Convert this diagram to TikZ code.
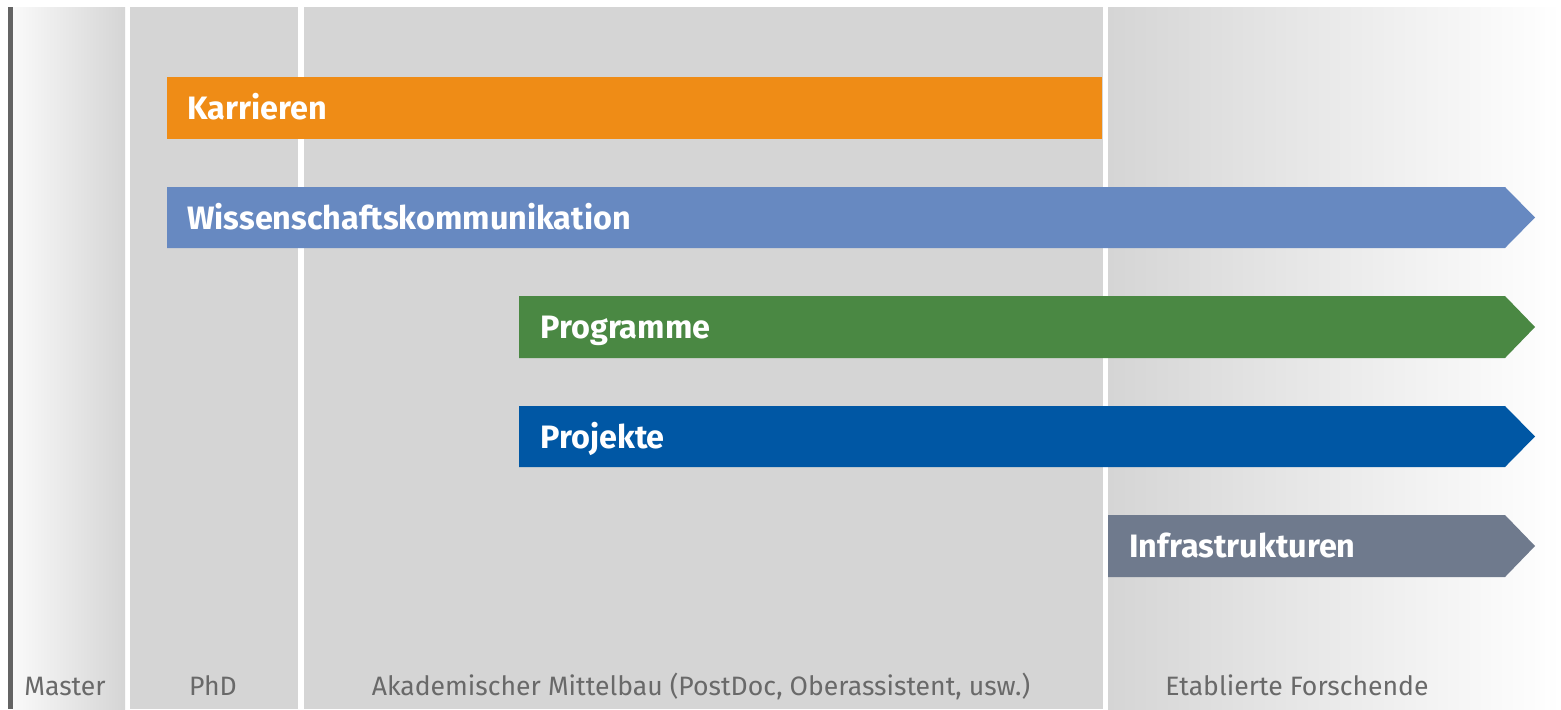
\documentclass[tikz,border=0pt]{standalone}
\usepackage{fontspec}
\setmainfont{Fira Sans}
\usetikzlibrary{positioning}

\definecolor{bandgray}{RGB}{213,213,213}
\definecolor{axisgray}{RGB}{100,100,100}
\definecolor{labelgray}{RGB}{105,105,105}
\definecolor{korange}{RGB}{239,140,22}
\definecolor{kblue}{RGB}{103,137,193}
\definecolor{kgreen}{RGB}{74,136,67}
\definecolor{kdarkblue}{RGB}{0,87,164}
\definecolor{kslate}{RGB}{111,122,141}

\begin{document}
\begin{tikzpicture}[x=0.5pt,y=-0.5pt]
  \tikzset{balken/.style={fill=#1},
           balkentext/.style={anchor=base west,inner sep=0pt,text=white,font=\fontsize{16.2}{20}\selectfont\bfseries},
           stufe/.style={anchor=base,inner sep=0pt,text=labelgray,font=\fontsize{13.3}{16}\selectfont}}

  \useasboundingbox (0,0) rectangle (1561,709);
  \fill[white] (0,0) rectangle (1561,709);

  \shade[left color=gray!4,right color=bandgray] (12,7) rectangle (125,709);
  \fill[bandgray] (130,7) rectangle (298,709);
  \fill[bandgray] (304,7) rectangle (1103,709);
  \shade[left color=bandgray,right color=white] (1108,7) rectangle (1561,709);
  \fill[axisgray] (8,7) rectangle (13,709);

  \fill[balken=korange] (167,77) rectangle (1102,139);
  \fill[balken=kblue] (167,187) -- (1505,187) -- (1535,217.5) -- (1505,248) -- (167,248) -- cycle;
  \fill[balken=kgreen] (519,296) -- (1505,296) -- (1535,327) -- (1505,358) -- (519,358) -- cycle;
  \fill[balken=kdarkblue] (519,406) -- (1505,406) -- (1535,436.5) -- (1505,467) -- (519,467) -- cycle;
  \fill[balken=kslate] (1108,515) -- (1505,515) -- (1535,546) -- (1505,577) -- (1108,577) -- cycle;

  \node[balkentext] (karrieren) at (187,119) {Karrieren};
  \node[balkentext] (wisskomm) at (187,229) {Wissenschaftskommunikation};
  \node[balkentext] (programme) at (540,338) {Programme};
  \node[balkentext] (projekte) at (540,448) {Projekte};
  \node[balkentext] (infra) at (1129,557) {Infrastrukturen};

  \node[stufe] (master) at (65,695) {Master};
  \node[stufe] (phd) at (213,695) {PhD};
  \node[stufe] (mittelbau) at (701,695) {Akademischer Mittelbau (PostDoc, Oberassistent, usw.)};
  \node[stufe] (etabliert) at (1297,695) {Etablierte Forschende};
\end{tikzpicture}
\end{document}
